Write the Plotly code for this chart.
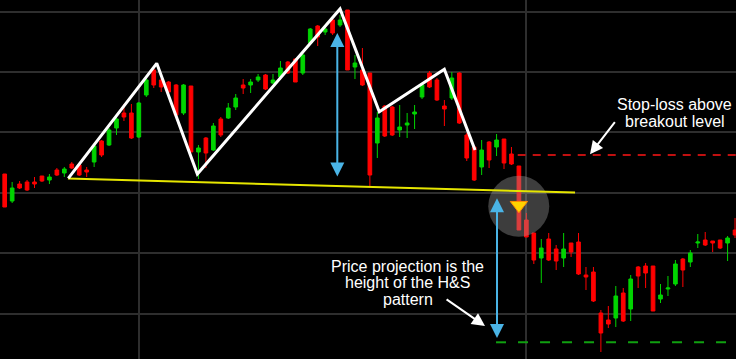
import plotly.graph_objects as go

# ---- Candle data (bar index, price units) ----
bar_index = list(range(99))
open_ = [200,173,190,192,192,198,194,204,201,210,209,204,212,233,229,246,261,261,237,279,
         304,294,292,289,261,288,222,236,224,255,256,267,289,289,294,299,291,297,312,315,
         301,331,348,342,354,349,364,307,304,301,231,268,267,244,249,260,277,301,294,268,
         276,301,239,227,207,232,227,235,220,208,154,141,116,135,125,116,131,132,99,102,
         61,54,56,81,65,107,108,108,75,85,90,115,112,131,134,133,134,131,144]
high = [200,192,193,194,197,198,200,206,207,212,209,207,230,234,246,257,270,270,272,297,
        306,296,293,290,290,288,229,237,251,257,271,280,295,295,300,300,300,313,313,316,
        321,346,349,347,356,359,364,319,326,301,262,269,268,269,261,269,291,303,296,274,
        302,302,241,228,234,233,240,235,227,208,161,141,135,141,129,141,131,141,107,107,
        64,68,88,86,99,108,111,108,90,98,114,116,124,140,142,133,134,138,156]
low = [167,171,185,183,186,192,190,198,197,205,198,197,207,217,228,239,253,235,236,277,
       286,282,281,258,259,222,195,206,223,237,255,264,280,281,292,284,290,294,300,292,
       299,329,328,339,339,347,304,295,288,187,216,237,238,237,236,245,275,286,273,248,
       274,250,213,193,199,206,218,205,209,144,137,110,91,113,104,107,117,99,84,72,
       22,46,47,52,53,86,86,63,71,78,88,87,107,126,128,122,125,113,136]
close = [167,186,186,184,190,193,197,199,205,206,199,202,228,219,244,255,257,236,271,294,
         289,287,282,259,289,222,226,221,248,239,266,276,286,292,297,285,294,306,301,292,
         319,345,337,345,341,354,304,311,289,199,256,238,239,247,251,262,289,287,274,265,
         296,251,216,194,224,214,234,211,210,144,137,114,126,114,113,125,122,100,97,73,
         41,50,78,53,95,98,101,63,79,86,110,104,121,132,129,131,126,136,139]

# ---- Head & shoulders pattern outline ----
pattern_x = [8.53, 20.40, 25.85, 45.0, 50.27, 58.99, 63.11]
pattern_y = [195.7, 310.7, 200.0, 365.0, 262.3, 304.7, 224.0]
neck_x = [8.49, 76.53]
neck_y = [195.5, 181.5]

# ---- Levels ----
breakout_x = 68.98
breakout_y = 167.8
stop_level = 219.0
stop_start = 68.84
target_level = 31.7
target_start = 65.93
height_arrow_x = 44.63
height_top, height_bottom = 341.0, 196.0
proj_arrow_x = 66.06
proj_top, proj_bottom = 177.3, 36.0

x_range = [-0.631, 98.13]
y_range = [15, 374]
grid_x = [18, 70]

FONT = "Liberation Sans, Arial, sans-serif"

fig = go.Figure()
fig.add_trace(go.Candlestick(
    x=bar_index, open=open_, high=high, low=low, close=close,
    increasing=dict(line=dict(color="#00d400", width=1), fillcolor="#00d400"),
    decreasing=dict(line=dict(color="#ff0000", width=1), fillcolor="#ff0000"),
    whiskerwidth=0, showlegend=False, hoverinfo="skip"))

# breakout highlight circle + triangle
fig.add_trace(go.Scatter(x=[breakout_x], y=[breakout_y], mode="markers",
                         marker=dict(size=61, color="rgba(160,160,160,0.38)", line=dict(width=0)),
                         showlegend=False, hoverinfo="skip"))
fig.add_trace(go.Scatter(x=[breakout_x + 0.02], y=[breakout_y + 1], mode="markers",
                         marker=dict(symbol="triangle-down", size=15, color="#ffd200",
                                     line=dict(color="#ff8c00", width=1)),
                         showlegend=False, hoverinfo="skip"))

# neckline
fig.add_trace(go.Scatter(x=neck_x, y=neck_y, mode="lines",
                         line=dict(color="#e6e600", width=2), showlegend=False, hoverinfo="skip"))
# pattern outline
fig.add_trace(go.Scatter(x=pattern_x, y=pattern_y, mode="lines",
                         line=dict(color="#ffffff", width=3), showlegend=False, hoverinfo="skip"))
# stop and target lines
fig.add_trace(go.Scatter(x=[stop_start, x_range[1]], y=[stop_level, stop_level], mode="lines",
                         line=dict(color="#c01010", width=2, dash="8px,7px"),
                         showlegend=False, hoverinfo="skip"))
fig.add_trace(go.Scatter(x=[target_start, x_range[1]], y=[target_level, target_level], mode="lines",
                         line=dict(color="#10a010", width=2, dash="10px,12px"),
                         showlegend=False, hoverinfo="skip"))

BLUE = "#4ab4e6"
annotations = [
    dict(x=height_arrow_x, y=height_top, ax=height_arrow_x, ay=height_bottom,
         xref="x", yref="y", axref="x", ayref="y", text="", showarrow=True,
         arrowhead=2, arrowside="end+start", arrowsize=1.4, arrowwidth=2, arrowcolor=BLUE),
    dict(x=proj_arrow_x, y=proj_bottom, ax=proj_arrow_x, ay=proj_top,
         xref="x", yref="y", axref="x", ayref="y", text="", showarrow=True,
         arrowhead=2, arrowside="end+start", arrowsize=1.4, arrowwidth=2, arrowcolor=BLUE),
    dict(x=78.54, y=219.7, ax=82.03, ay=253.3, xref="x", yref="y", axref="x", ayref="y",
         text="", showarrow=True, arrowhead=2, arrowsize=1.3, arrowwidth=2, arrowcolor="#ffffff"),
    dict(x=64.45, y=48.0, ax=59.09, ay=75.7, xref="x", yref="y", axref="x", ayref="y",
         text="", showarrow=True, arrowhead=2, arrowsize=1.3, arrowwidth=2, arrowcolor="#ffffff"),
]
text_lines = [
    ("Stop-loss above", 89.82, 269.5),
    ("breakout level", 89.88, 252.5),
    ("Price projection is the", 54.05, 108.0),
    ("height of the H&S", 54.09, 91.5),
    ("pattern", 54.12, 75.0),
]
for t, x, y in text_lines:
    annotations.append(dict(x=x, y=y, xref="x", yref="y", text=t, showarrow=False,
                            xanchor="center", yanchor="middle",
                            font=dict(family=FONT, size=16, color="#ffffff")))

fig.update_layout(
    width=736, height=359,
    margin=dict(l=0, r=0, t=0, b=0),
    paper_bgcolor="#000000", plot_bgcolor="#000000",
    showlegend=False,
    annotations=annotations,
    xaxis=dict(range=x_range, rangeslider=dict(visible=False), showticklabels=False,
               tickvals=grid_x, showgrid=True, gridcolor="#2e2e2e", gridwidth=1.5,
               zeroline=False, showline=False, ticks=""),
    yaxis=dict(range=y_range, showticklabels=False, tick0=0, dtick=60.4,
               showgrid=True, gridcolor="#2e2e2e", gridwidth=1.5,
               zeroline=False, showline=False, ticks=""),
)

fig.write_html("out.html", config={"displayModeBar": False},
               post_script="document.body.style.margin='0';document.body.style.background='#000';")
